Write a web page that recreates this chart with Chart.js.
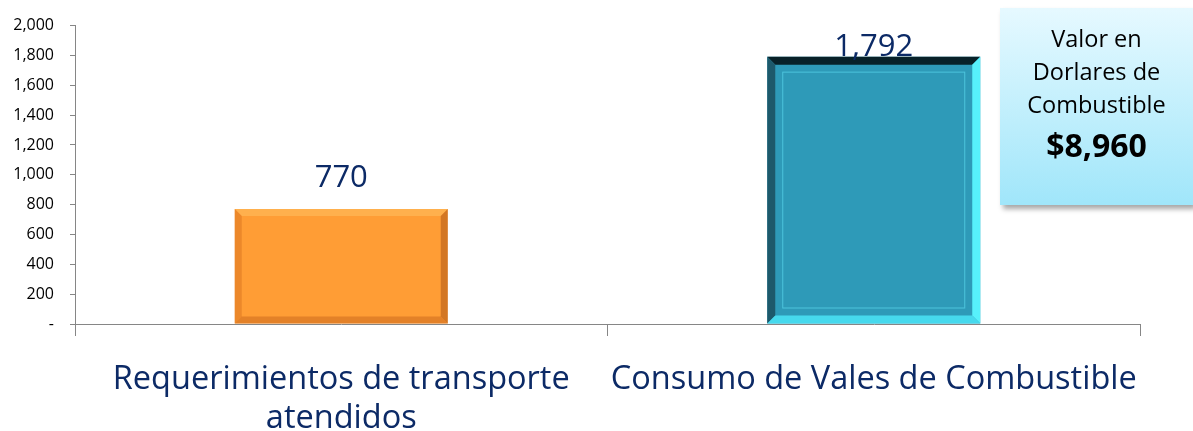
<!DOCTYPE html>
<html>
<head>
<meta charset="utf-8">
<script src="https://cdn.jsdelivr.net/npm/chart.js@4.4.1/dist/chart.umd.min.js"></script>
<style>
  html, body { margin:0; padding:0; background:#fff; }
  #wrap { position:relative; width:1193px; height:431px; }
  #c { position:absolute; left:0; top:0; }
  #box {
    position:absolute; left:1000px; top:8px; width:193px; height:197px;
    background:linear-gradient(#e6f9ff, #a0e6fa);
    box-shadow:3px 4px 5px rgba(0,0,0,0.35);
    font-family:"Open Sans", sans-serif; color:#000; text-align:center;
  }
  #box .t { font-size:23.5px; line-height:33px; padding-top:14px; }
  #box .v { font-size:32px; font-weight:bold; line-height:48px; }
</style>
</head>
<body>
<div id="wrap">
  <canvas id="c" width="1193" height="431"></canvas>
  <div id="box"><div class="t">Valor en<br>Dorlares de<br>Combustible</div><div class="v">$8,960</div></div>
</div>
<script>
const categories = [["Requerimientos de transporte", "atendidos"], "Consumo de Vales de Combustible"];
const values = [770, 1792];
const yTicks = [0, 200, 400, 600, 800, 1000, 1200, 1400, 1600, 1800, 2000];

const fmt = v => v === 0 ? "-" : v.toLocaleString("en-US");
const NAVY = "#0c2a66";

const palettes = [
  { top:"#ff9d35", bot:"#e0792a", tl:"#ffc466", td:"#b85a18", l:"#d9731f", r:"#a85214", b:"#c7661c", inner:null },
  { top:"#2e9ab8", bot:"#216f86", tl:"#061a20", td:"#55f2ff", l:"#1c5566", r:"#5af6ff", b:"#48dcef", inner:"#4cc4dc" }
];

function barGradient(ctx) {
  const el = ctx.element; const chart = ctx.chart;
  const p = palettes[ctx.dataIndex];
  if (!chart.chartArea || !el) return p.top;
  const props = el.getProps(['y','base'], true);
  const top = props.y, bot = props.base;
  if (!isFinite(top) || !isFinite(bot) || top === bot) return p.top;
  const g = chart.ctx.createLinearGradient(0, top, 0, bot);
  g.addColorStop(0, p.top); g.addColorStop(1, p.bot);
  return g;
}

const bevelPlugin = {
  id:'bevel',
  afterDatasetsDraw(chart) {
    const ctx = chart.ctx;
    const meta = chart.getDatasetMeta(0);
    meta.data.forEach((bar, i) => {
      const p = palettes[i];
      const w = bar.width, x0 = bar.x - w/2, x1 = bar.x + w/2, y0 = bar.y, y1 = bar.base;
      const d = i === 0 ? 7 : 8;
      ctx.save();
      const quad = (pts, col) => { ctx.beginPath(); ctx.moveTo(pts[0][0], pts[0][1]); for (let k=1;k<pts.length;k++) ctx.lineTo(pts[k][0], pts[k][1]); ctx.closePath(); ctx.fillStyle = col; ctx.fill(); };
      ctx.globalAlpha = i === 0 ? 0.5 : 0.95;
      quad([[x0,y0],[x1,y0],[x1-d,y0+d],[x0+d,y0+d]], p.tl);
      quad([[x0,y0],[x0+d,y0+d],[x0+d,y1-d],[x0,y1]], p.l);
      quad([[x1,y0],[x1,y1],[x1-d,y1-d],[x1-d,y0+d]], p.r);
      quad([[x0,y1],[x0+d,y1-d],[x1-d,y1-d],[x1,y1]], p.b);
      ctx.globalAlpha = 1;
      if (p.inner) {
        ctx.strokeStyle = p.inner; ctx.lineWidth = 1;
        ctx.strokeRect(x0 + 15.5, y0 + 15.5, w - 31, (y1 - y0) - 31);
      }
      ctx.restore();
      // data label
      ctx.save();
      ctx.font = "31px 'Open Sans', sans-serif";
      ctx.fillStyle = NAVY;
      ctx.textAlign = "center"; ctx.textBaseline = "alphabetic";
      const ly = Math.max(bar.y - 22, chart.chartArea.top + 30);
      ctx.fillText(fmt(values[i]), bar.x, ly);
      ctx.restore();
    });
  }
};

new Chart(document.getElementById('c'), {
  type:'bar',
  data:{ labels:categories, datasets:[{ data:values, backgroundColor:barGradient, borderWidth:0, barPercentage:0.4, categoryPercentage:1 }] },
  options:{
    responsive:false, animation:false, devicePixelRatio:1,
    layout:{ padding:{ top:20, right:53, left:0, bottom:0 } },
    plugins:{ legend:{display:false}, tooltip:{enabled:false} },
    scales:{
      x:{
        grid:{ drawOnChartArea:false, drawTicks:true, tickLength:12, color:"#868686", offset:true },
        border:{ color:"#868686", width:1 },
        ticks:{ color:NAVY, font:{ family:"'Open Sans', sans-serif", size:32.5, lineHeight:1.18 }, padding:25, maxRotation:0, autoSkip:false },
        afterFit(s){ s.height = 107; }
      },
      y:{
        min:0, max:2000,
        afterBuildTicks(s){ s.ticks = yTicks.map(v => ({value:v})); },
        grid:{ drawOnChartArea:false, drawTicks:true, tickLength:5, color:"#868686" },
        border:{ color:"#868686", width:1 },
        ticks:{ color:"#000", font:{ family:"'Open Sans', sans-serif", size:16 }, padding:16, callback:v => fmt(v) },
        afterFit(s){ s.width = 75; }
      }
    }
  },
  plugins:[bevelPlugin]
});
</script>
</body>
</html>
